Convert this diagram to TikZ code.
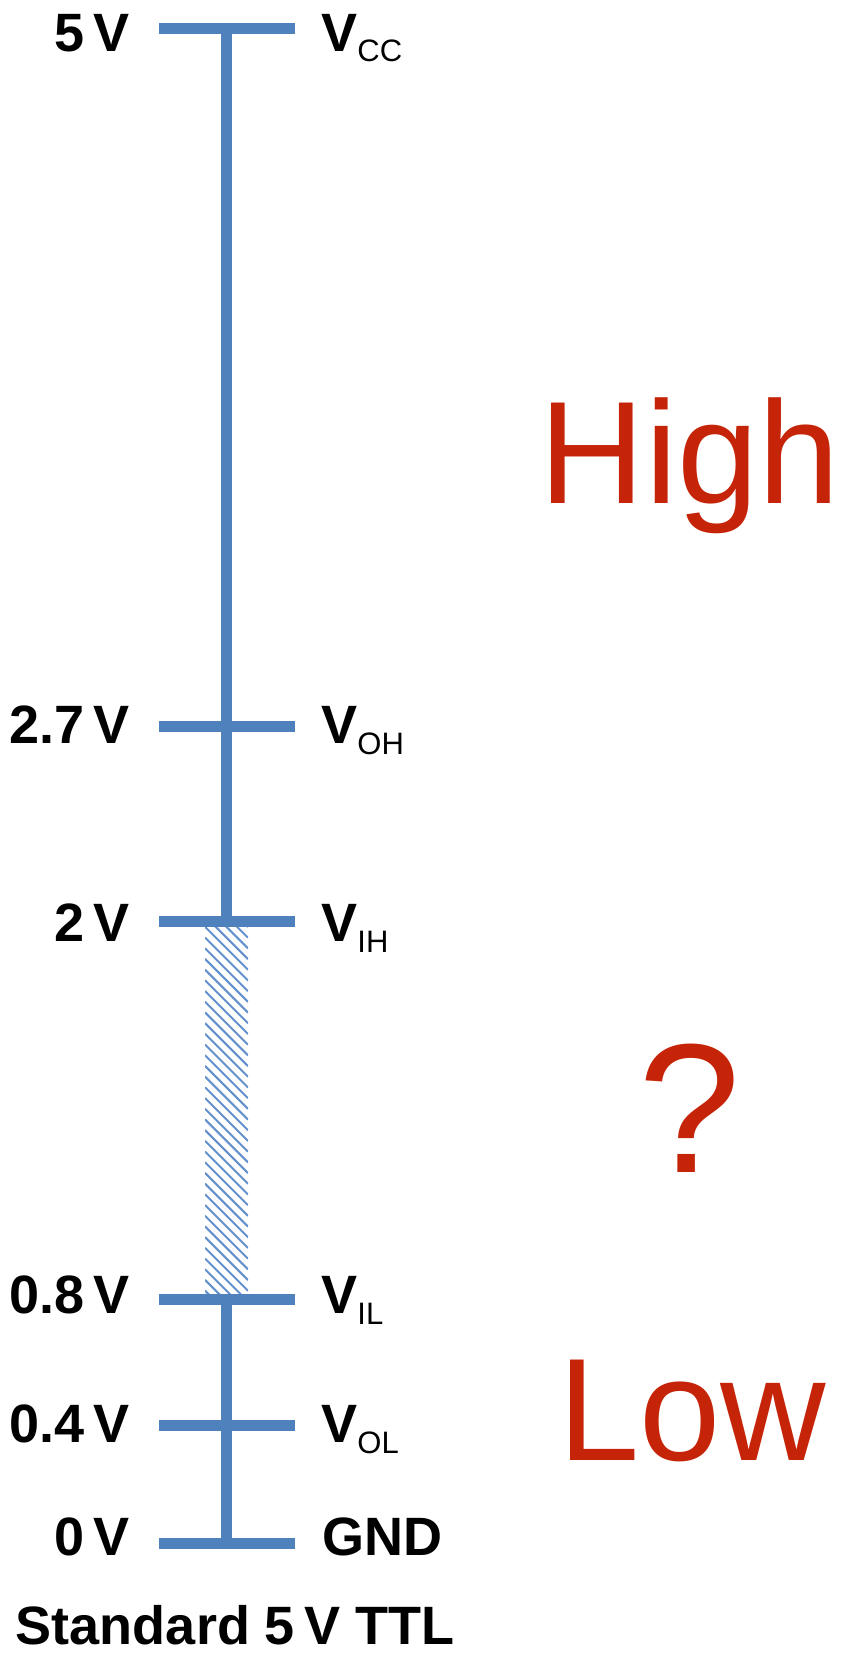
\documentclass[tikz,border=0pt]{standalone}
\usepackage{fontspec}
\setmainfont{Liberation Sans}
\definecolor{barblue}{RGB}{79,129,189}
\definecolor{hatchblue}{RGB}{100,145,205}
\definecolor{lvlred}{RGB}{197,36,8}
\newcommand{\lblfont}{\fontsize{27pt}{32pt}\selectfont\bfseries}
\newcommand{\subtx}[1]{\raisebox{-5.5pt}{\fontsize{15.5pt}{18pt}\selectfont\mdseries #1}}
\newcommand{\bigfont}{\fontsize{73pt}{80pt}\selectfont}
\begin{document}
\begin{tikzpicture}[x=0.5pt,y=-0.5pt,
  bar/.style={draw=barblue,line width=5.5pt,line cap=butt},
  stem/.style={draw=barblue,line width=5.5pt,line cap=butt},
  hatchline/.style={draw=hatchblue,line width=1pt},
  leftlbl/.style={anchor=base east,inner sep=0pt,font=\lblfont},
  rightlbl/.style={anchor=base west,inner sep=0pt,font=\lblfont},
  state/.style={anchor=base,inner sep=0pt,text=lvlred}]
\useasboundingbox (0,0) rectangle (841,1654);
% levels: name / y
\foreach \n/\y in {a/28,b/726,c/921.5,d/1299,e/1425,f/1543}{
  \coordinate (\n l) at (159,\y);
  \coordinate (\n r) at (295,\y);
  \coordinate (\n c) at (226.5,\y);
}
% hatched undefined region
\coordinate (hatchtl) at (205,927);
\coordinate (hatchbr) at (248,1293);
\begin{scope}
  \clip (hatchtl) rectangle (hatchbr);
  \foreach \k in {0,...,40}{
    \draw[hatchline] (205,884+\k*10.7) -- ++(43,43);
  }
\end{scope}
% stems
\draw[stem] (ac) -- (cc);
\draw[stem] (dc) -- (fc);
% bars
\foreach \n in {a,b,c,d,e,f}{ \draw[bar] (\n l) -- (\n r); }
% left labels
\node[leftlbl] (L5)  at (130,51)   {5\,V};
\node[leftlbl] (L27) at (130,743)  {2.7\,V};
\node[leftlbl] (L2)  at (130,941)  {2\,V};
\node[leftlbl] (L08) at (130,1313) {0.8\,V};
\node[leftlbl] (L04) at (130,1442) {0.4\,V};
\node[leftlbl] (L0)  at (130,1555) {0\,V};
% right labels
\node[rightlbl] (Rcc) at (321,51)   {V\subtx{CC}};
\node[rightlbl] (Roh) at (321,743)  {V\subtx{OH}};
\node[rightlbl] (Rih) at (321,941)  {V\subtx{IH}};
\node[rightlbl] (Ril) at (321,1313) {V\subtx{IL}};
\node[rightlbl] (Rol) at (321,1442) {V\subtx{OL}};
\node[rightlbl] (Rgnd) at (322,1555) {GND};
% states
\node[state,font=\bigfont] (high) at (690,503) {High};
\node[state,font=\fontsize{92pt}{100pt}\selectfont] (undef) at (690,1172) {?};
\node[state,font=\bigfont] (low) at (692,1460) {Low};
% title
\node[anchor=base,inner sep=0pt,font=\lblfont] (title) at (235,1644) {Standard 5\,V TTL};
\end{tikzpicture}
\end{document}
